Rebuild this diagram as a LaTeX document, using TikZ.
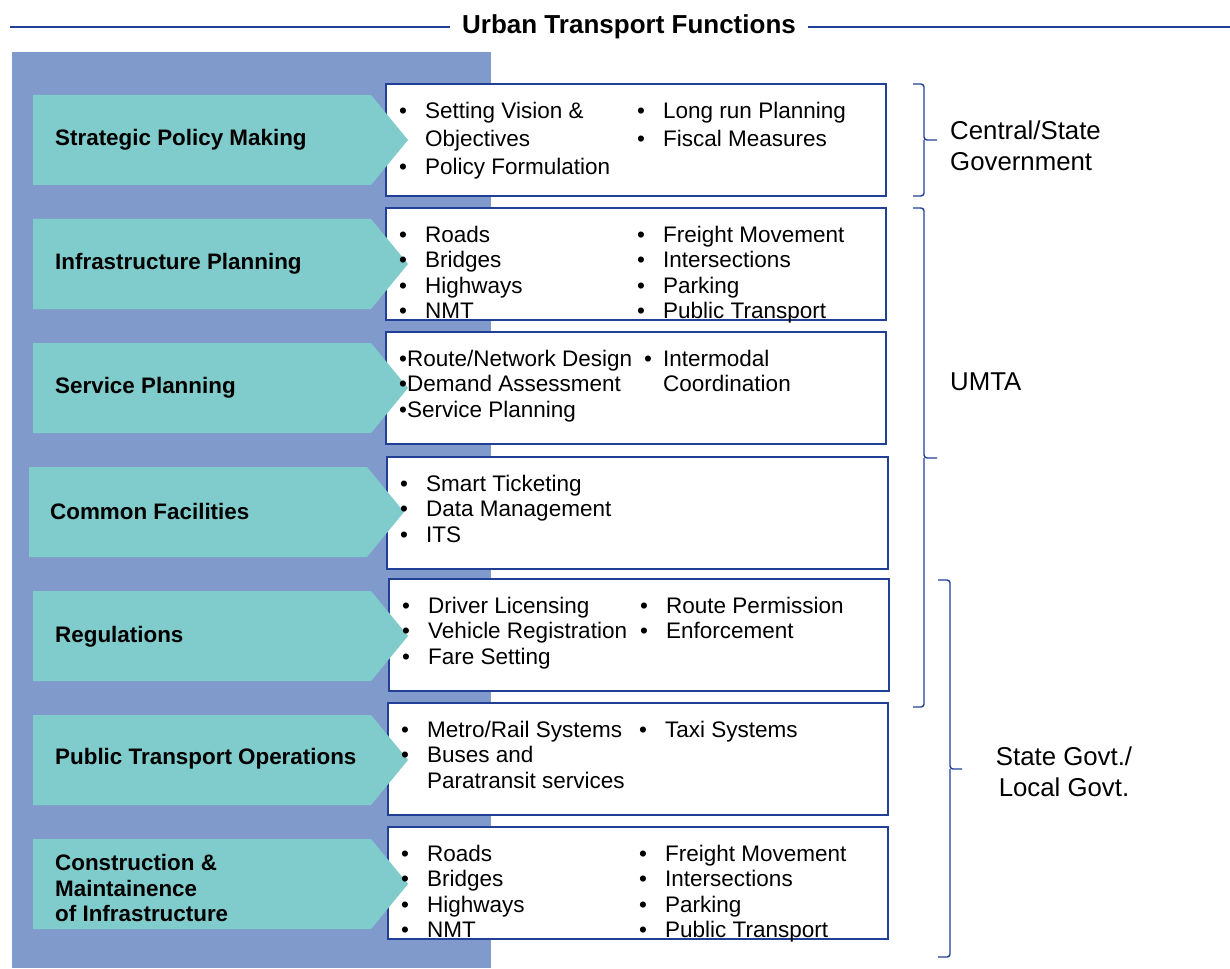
\documentclass[tikz,border=0pt]{standalone}
\usepackage{fontspec}
\setmainfont{Liberation Sans}
\usetikzlibrary{positioning}
\definecolor{panelblue}{RGB}{128,155,203}
\definecolor{chevteal}{RGB}{128,203,203}
\definecolor{lineblue}{RGB}{32,64,152}
\newcommand{\bitem}[2][26pt]{\strut\makebox[#1][l]{\textbullet}#2}
\newcommand{\bcont}[2][26pt]{\strut\hspace*{#1}#2}
\begin{document}
\begin{tikzpicture}[x=1pt, y=-1pt,
  panel/.style={fill=panelblue},
  chevron/.style={fill=chevteal},
  fnbox/.style={draw=lineblue, line width=1.8pt, fill=white, anchor=north west,
    minimum width=500pt, minimum height=112pt, inner sep=0pt, outer sep=0pt},
  fnlabel/.style={anchor=west, align=left, inner sep=0pt,
    font=\bfseries\fontsize{22.4}{25.5}\selectfont},
  items/.style={align=left, inner sep=0pt, font=\fontsize{22.5}{25.5}\selectfont},
  brace/.style={draw=lineblue, line width=1.4pt, rounded corners=3pt},
  rule/.style={draw=lineblue, line width=2.4pt},
  govlabel/.style={align=left, inner sep=0pt, font=\fontsize{25.8}{31}\selectfont}]
\useasboundingbox (0,0) rectangle (1230,968);

% title
\node [font=\bfseries\fontsize{26}{30}\selectfont, inner xsep=12pt, inner ysep=0pt] (title) at (629,27) {Urban Transport Functions};
\draw [rule] (10,27) -- (title.west);
\draw [rule] (title.east) -- (1230,27);

\fill [panel] (12,52) rectangle (491,968);

% boxes
\node [fnbox] (bspm) at (386,84) {};
\node [fnbox] (bip) at (386,208) {};
\node [fnbox] (bsp) at (386,332) {};
\node [fnbox, minimum width=501pt] (bcf) at (387,457) {};
\node [fnbox] (breg) at (389,579) {};
\node [fnbox] (bpto) at (388,703) {};
\node [fnbox] (bcmi) at (388,827) {};

% chevrons
\fill [chevron] (33,95)  -- ++(338,0) -- ++(37,45) -- ++(-37,45) -- ++(-338,0) -- cycle;
\fill [chevron] (33,219) -- ++(338,0) -- ++(37,45) -- ++(-37,45) -- ++(-338,0) -- cycle;
\fill [chevron] (33,343) -- ++(338,0) -- ++(37,45) -- ++(-37,45) -- ++(-338,0) -- cycle;
\fill [chevron] (29,467) -- ++(338,0) -- ++(37,45) -- ++(-37,45) -- ++(-338,0) -- cycle;
\fill [chevron] (33,591) -- ++(338,0) -- ++(37,45) -- ++(-37,45) -- ++(-338,0) -- cycle;
\fill [chevron] (33,715) -- ++(338,0) -- ++(37,45) -- ++(-37,45) -- ++(-338,0) -- cycle;
\fill [chevron] (33,839) -- ++(338,0) -- ++(37,45) -- ++(-37,45) -- ++(-338,0) -- cycle;

\node [fnlabel] (spm) at (55,140) {Strategic Policy Making};
\node [fnlabel] (ip)  at (55,264) {Infrastructure Planning};
\node [fnlabel] (sp)  at (55,388) {Service Planning};
\node [fnlabel] (cf)  at (50,511) {Common Facilities};
\node [fnlabel] (reg) at (55,637) {Regulations};
\node [fnlabel] (pto) at (55,759) {Public Transport Operations};
\node [fnlabel] (cmi) at (55,888) {Construction \&\\ Maintainence\\ of Infrastructure};

% box contents
\node [items, font=\fontsize{22.5}{28}\selectfont, below right=15pt and 13pt of bspm.north west] (spm1)
  {\bitem{Setting Vision \&}\\ \bcont{Objectives}\\ \bitem{Policy Formulation}};
\node [items, font=\fontsize{22.5}{28}\selectfont, below right=15pt and 251pt of bspm.north west] (spm2)
  {\bitem{Long run Planning}\\ \bitem{Fiscal Measures}};

\node [items, below right=16pt and 13pt of bip.north west] (ip1)
  {\bitem{Roads}\\ \bitem{Bridges}\\ \bitem{Highways}\\ \bitem{NMT}};
\node [items, below right=16pt and 251pt of bip.north west] (ip2)
  {\bitem{Freight Movement}\\ \bitem{Intersections}\\ \bitem{Parking}\\ \bitem{Public Transport}};

\node [items, below right=16pt and 13pt of bsp.north west] (sp1)
  {\strut\textbullet Route/Network Design\\ \strut\textbullet Demand Assessment\\ \strut\textbullet Service Planning};
\node [items, below right=16pt and 258pt of bsp.north west] (sp2)
  {\bitem[19pt]{Intermodal}\\ \bcont[19pt]{Coordination}};

\node [items, below right=16pt and 13pt of bcf.north west] (cf1)
  {\bitem{Smart Ticketing}\\ \bitem{Data Management}\\ \bitem{ITS}};

\node [items, below right=16pt and 13pt of breg.north west] (reg1)
  {\bitem{Driver Licensing}\\ \bitem{Vehicle Registration}\\ \bitem{Fare Setting}};
\node [items, below right=16pt and 251pt of breg.north west] (reg2)
  {\bitem{Route Permission}\\ \bitem{Enforcement}};

\node [items, below right=16pt and 13pt of bpto.north west] (pto1)
  {\bitem{Metro/Rail Systems}\\ \bitem{Buses and}\\ \bcont{Paratransit services}};
\node [items, below right=16pt and 251pt of bpto.north west] (pto2)
  {\bitem{Taxi Systems}};

\node [items, below right=16pt and 13pt of bcmi.north west] (cmi1)
  {\bitem{Roads}\\ \bitem{Bridges}\\ \bitem{Highways}\\ \bitem{NMT}};
\node [items, below right=16pt and 251pt of bcmi.north west] (cmi2)
  {\bitem{Freight Movement}\\ \bitem{Intersections}\\ \bitem{Parking}\\ \bitem{Public Transport}};

% responsibility braces
\draw [brace] (913,84) -- (924,84) -- (924,140) -- (937,140) (924,140) -- (924,196) -- (913,196);
\draw [brace] (913,208) -- (924,208) -- (924,458) -- (937,458) (924,458) -- (924,707) -- (913,707);
\draw [brace] (938,580) -- (950,580) -- (950,769) -- (962,769) (950,769) -- (950,957) -- (938,957);

\node [govlabel, anchor=west] (govt) at (950,146) {Central/State\\ Government};
\node [govlabel, anchor=west] (umta) at (950,382) {UMTA};
\node [govlabel, align=center] (local) at (1064,772) {State Govt./\\ Local Govt.};
\end{tikzpicture}
\end{document}
